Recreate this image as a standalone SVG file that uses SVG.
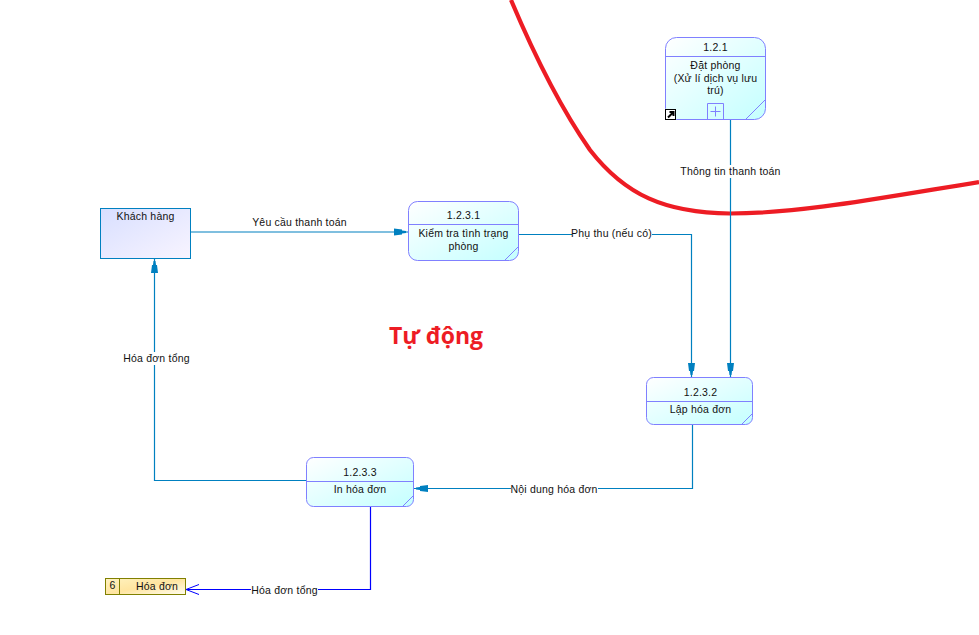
<svg xmlns="http://www.w3.org/2000/svg" width="979" height="635" viewBox="0 0 979 635">
<style>
text{font-family:"Liberation Sans",Arial,sans-serif;font-size:10.5px;fill:#111;text-anchor:middle;letter-spacing:.2px}
.p{fill:url(#gp);stroke:#8080ff;stroke-width:1}
.d{fill:none;stroke:#8080ff;stroke-width:1}
.c{fill:none;stroke:#0080c0;stroke-width:1.2}
.b{fill:none;stroke:#0000ff;stroke-width:1.2}
.lb{fill:#fff;stroke:none}
</style>
<defs>
<linearGradient id="gp" x1="0" y1="0" x2="1" y2="1"><stop offset="0" stop-color="#ffffff"/><stop offset="1" stop-color="#c4ffff"/></linearGradient>
<linearGradient id="ge" x1="0" y1="0" x2="1" y2="1"><stop offset="0" stop-color="#d8dfff"/><stop offset="1" stop-color="#f8f4ff"/></linearGradient>
<linearGradient id="gs" x1="0" y1="0" x2="1" y2="1"><stop offset="0" stop-color="#fff2c0"/><stop offset="0.5" stop-color="#ffe5a0"/><stop offset="1" stop-color="#fffdf0"/></linearGradient>
<marker id="a" markerUnits="userSpaceOnUse" markerWidth="15" markerHeight="10" refX="14" refY="5" orient="auto"><path d="M0 1.500L8 2.500V3.500L12 4V6L8 6.500V7.500L0 8.500Z" fill="#0080c0"/></marker>
<marker id="o" markerUnits="userSpaceOnUse" markerWidth="15" markerHeight="12" refX="14" refY="6" orient="auto"><path d="M1 1L14 6L1 11M4 6H14" fill="none" stroke="#0000ff"/></marker>
</defs>
<path id="boundary" d="M511 0C530 45 555 100 590 150C625 195 665 213 730 213.500C800 213.500 880 198 979 182" fill="none" stroke="#ed1c24" stroke-width="4.200"/>
<g id="connectors">
<path class="c" d="M730.500 119.500V377" marker-end="url(#a)"/>
<path class="c" d="M190.500 232H408" marker-end="url(#a)"/>
<path class="c" d="M518.500 234.500H691.500V377" marker-end="url(#a)"/>
<path class="c" d="M692.500 424.500V488.500H414" marker-end="url(#a)"/>
<path class="c" d="M306.500 480.500H154.500V259" marker-end="url(#a)"/>
<path class="b" d="M370.500 506.500V589.500H186" marker-end="url(#o)"/>
<rect class="lb" x="680" y="165" width="101" height="13"/>
<text x="730.500" y="175">Thông tin thanh toán</text>
<text x="299.500" y="226">Yêu cầu thanh toán</text>
<rect class="lb" x="572" y="227" width="80" height="13"/>
<text x="611.500" y="237">Phụ thu (nếu có)</text>
<rect class="lb" x="511" y="482" width="87" height="13"/>
<text x="554" y="493">Nội dung hóa đơn</text>
<rect class="lb" x="123" y="352" width="67" height="13"/>
<text x="156.500" y="362">Hóa đơn tổng</text>
<rect class="lb" x="251" y="583" width="67" height="13"/>
<text x="284.500" y="594">Hóa đơn tổng</text>
</g>
<g id="node-121">
<rect class="p" x="665.500" y="37.500" width="100" height="82" rx="11"/>
<path class="d" d="M665.500 56.500H765.500M745.500 119.500L765.500 99.500M707.500 119.500V103.500H723.500V119.500M715.500 106.500V116.500M710.500 111.500H720.500"/>
<text x="715.500" y="51">1.2.1</text>
<text x="715.500" y="68.500">Đặt phòng</text>
<text x="715.500" y="81.500">(Xử lí dịch vụ lưu</text>
<text x="715.500" y="94">trú)</text>
<rect x="665.500" y="109.500" width="10" height="10" fill="#fff" stroke="#000"/>
<path d="M668 117.500L672.500 113M669.500 112H673.500V116" fill="none" stroke="#000" stroke-width="2"/>
</g>
<g id="node-khach-hang">
<rect x="100.500" y="208.500" width="90" height="50" fill="url(#ge)" stroke="#0080c0"/>
<text x="145.500" y="220">Khách hàng</text>
</g>
<g id="node-1231">
<rect class="p" x="408.500" y="201.500" width="110" height="59" rx="9"/>
<path class="d" d="M408.500 224.500H518.500M504.500 260.500L518.500 246.500"/>
<text x="463.500" y="219">1.2.3.1</text>
<text x="463.500" y="236.500">Kiểm tra tình trạng</text>
<text x="463.500" y="250">phòng</text>
</g>
<g id="node-1232">
<rect class="p" x="646.500" y="377.500" width="106" height="47" rx="7"/>
<path class="d" d="M646.500 401.500H752.500M741.500 424.500L752.500 413.500"/>
<text x="700.500" y="396">1.2.3.2</text>
<text x="700.500" y="413">Lập hóa đơn</text>
</g>
<g id="node-1233">
<rect class="p" x="306.500" y="457.500" width="107" height="49" rx="7"/>
<path class="d" d="M306.500 481.500H413.500M402.500 506.500L413.500 495.500"/>
<text x="360" y="476">1.2.3.3</text>
<text x="360" y="493">In hóa đơn</text>
</g>
<g id="node-hoa-don">
<rect x="105.500" y="578.500" width="80" height="16" fill="url(#gs)" stroke="#808000"/>
<path d="M119.500 578.500V594.500" stroke="#808000" fill="none"/>
<text x="112.500" y="589">6</text>
<text x="157" y="590">Hóa đơn</text>
</g>
<text id="title" x="436" y="344" style="font-family:'Open Sans','Noto Sans',sans-serif;font-size:23px;font-weight:700;fill:#ed1c24;letter-spacing:0">Tự động</text>
</svg>
